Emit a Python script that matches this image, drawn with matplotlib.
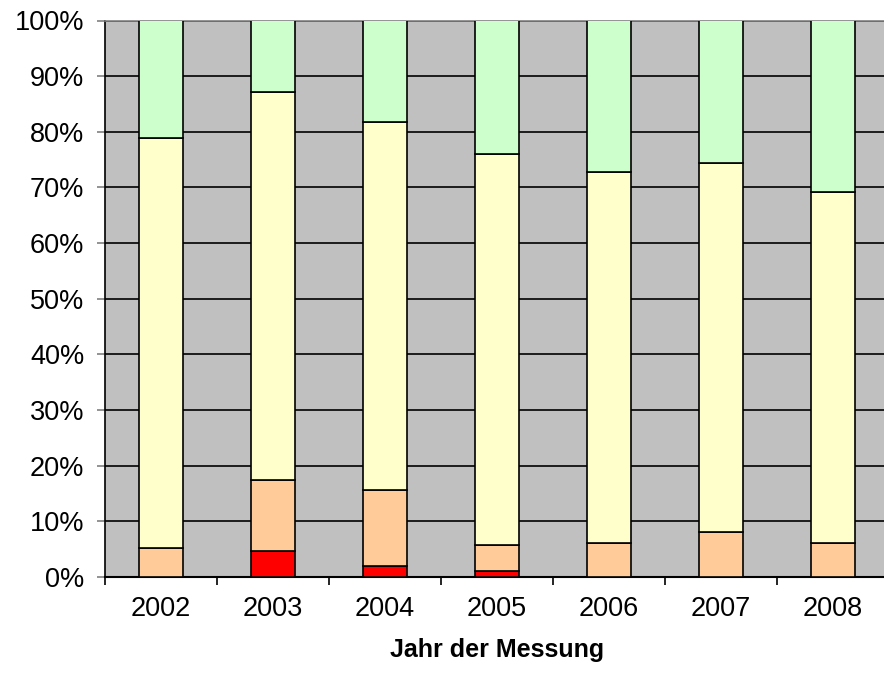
import numpy as np
import matplotlib
matplotlib.use("Agg")
from matplotlib import pyplot as plt
from matplotlib.ticker import FixedLocator, PercentFormatter

plt.rcParams['font.family'] = ['Liberation Sans', 'DejaVu Sans']

years = ['2002', '2003', '2004', '2005', '2006', '2007', '2008']
red = [0.0, 4.7, 2.0, 1.0, 0.0, 0.0, 0.0]
orange_top = [5.3, 17.4, 15.6, 5.7, 6.1, 8.0, 6.1]
yellow_top = [78.9, 87.2, 81.8, 76.0, 72.8, 74.4, 69.1]

red = np.array(red)
orange = np.array(orange_top) - red
yellow = np.array(yellow_top) - np.array(orange_top)
green = 100 - np.array(yellow_top)

colors = ['#FF0000', '#FFCC99', '#FFFFCC', '#CCFFCC']

fig = plt.figure(figsize=(8.84, 6.75), dpi=100)
ax = fig.add_axes([105 / 884, 98 / 675, 784 / 884, 556.5 / 675])
ax.set_facecolor('#C0C0C0')

x = np.arange(len(years))
bottom = np.zeros(len(years))
for vals, c in zip([red, orange, yellow, green], colors):
    ax.bar(x, vals, width=0.39, bottom=bottom, color=c, edgecolor='black',
           linewidth=1.2, zorder=3)
    bottom += vals

ax.set_xlim(-0.5, len(years) - 0.5)
ax.set_ylim(0, 100)

ax.yaxis.set_major_locator(FixedLocator(np.arange(0, 101, 10)))
ax.yaxis.set_major_formatter(PercentFormatter(decimals=0))
ax.grid(axis='y', color='black', linewidth=1.2, zorder=1)
ax.set_axisbelow(True)

# ticks between categories, labels at the centres
ax.xaxis.set_major_locator(FixedLocator(np.arange(-0.5, len(years), 1.0)))
ax.xaxis.set_major_formatter(plt.NullFormatter())
ax.xaxis.set_minor_locator(FixedLocator(x))
ax.set_xticklabels(years, minor=True)
ax.tick_params(axis='x', which='major', direction='out', length=6, width=1.2, color='black')
ax.tick_params(axis='x', which='minor', length=0, pad=14, labelsize=19.5)
ax.tick_params(axis='y', direction='out', length=6, width=1.2, color='#808080',
               labelsize=19.5, pad=9)

for side in ['top', 'right']:
    ax.spines[side].set_color('#808080')
    ax.spines[side].set_linewidth(1.2)
ax.spines['left'].set_color('black')
ax.spines['left'].set_linewidth(1.2)
ax.spines['bottom'].set_color('black')
ax.spines['bottom'].set_linewidth(1.5)

ax.set_xlabel('Jahr der Messung', fontsize=18, fontweight='bold', labelpad=11)

fig.savefig('out.png', dpi=100)
